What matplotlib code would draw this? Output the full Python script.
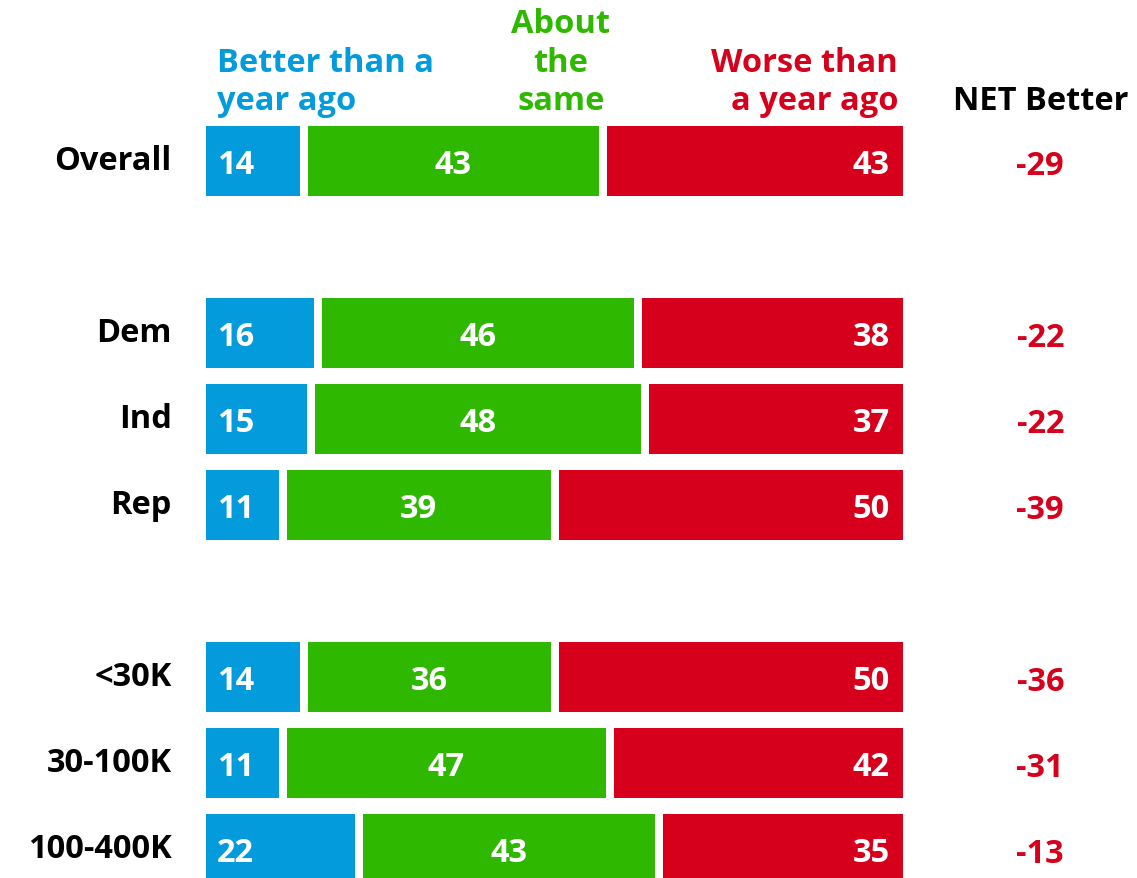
import matplotlib.pyplot as plt
import numpy as np

plt.rcParams['font.family'] = ['Open Sans', 'DejaVu Sans']

# Data
groups = ['Overall', 'Dem', 'Ind', 'Rep', '<30K', '30-100K', '100-400K']
better = [14, 16, 15, 11, 14, 11, 22]
same = [43, 46, 48, 39, 36, 47, 43]
worse = [43, 38, 37, 50, 50, 42, 35]
headers = ['Better than a\nyear ago', 'About\nthe\nsame', 'Worse than\na year ago']

# Layout: row slots (blank slots separate the groups)
slots = [0, 2, 3, 4, 6, 7, 8]

blue = '#039BDB'
green = '#2EB800'
red = '#D6001C'
colors = [blue, green, red]

W, H = 1137, 879
px_per_pct = 6.97      # 100% = 697 px
x0_px = 206            # left edge of bars
slot_px = 86
y0_px = 162

fig = plt.figure(figsize=(W / 100, H / 100), dpi=100)
ax = fig.add_axes([0, 0, 1, 1])
ax.set_xlim(-x0_px / px_per_pct, (W - x0_px) / px_per_pct)
ax.set_ylim((H - y0_px) / slot_px, -y0_px / slot_px)
ax.axis('off')

gap = 8 / px_per_pct
bar_h = 70 / slot_px
fs = 23.5

vals = np.array([better, same, worse], dtype=float)
y = np.array(slots, dtype=float)
cum = np.zeros(len(groups))
for k in range(3):
    left = cum + (gap / 2 if k > 0 else 0)
    right = cum + vals[k] - (gap / 2 if k < 2 else 0)
    ax.barh(y, right - left, left=left, height=bar_h, color=colors[k], linewidth=0)
    for i in range(len(groups)):
        if k == 0:
            ax.text(left[i] + 1.6, y[i] + 0.04, f'{int(vals[k][i])}', ha='left', va='center',
                    color='white', fontsize=fs, fontweight='bold')
        elif k == 1:
            ax.text((left[i] + right[i]) / 2, y[i] + 0.04, f'{int(vals[k][i])}', ha='center',
                    va='center', color='white', fontsize=fs, fontweight='bold')
        else:
            ax.text(right[i] - 1.9, y[i] + 0.04, f'{int(vals[k][i])}', ha='right', va='center',
                    color='white', fontsize=fs, fontweight='bold')
    cum = cum + vals[k]

# Row labels
for i, g in enumerate(groups):
    ax.text(-4.9, y[i], g, ha='right', va='center', color='black', fontsize=fs, fontweight='bold')

# NET Better column
net = np.array(better) - np.array(worse)
for i in range(len(groups)):
    ax.text(119.7, y[i] + 0.05, f'{net[i]}', ha='center', va='center', color=red,
            fontsize=fs, fontweight='bold')

# Headers
hy = (110 - y0_px) / slot_px
ax.text(1.6, hy, headers[0], ha='left', va='baseline', color=blue, fontsize=fs,
        fontweight='bold', linespacing=1.22)
ax.text(50.9, hy, headers[1], ha='center', va='baseline', color=green, fontsize=fs,
        fontweight='bold', linespacing=1.22)
ax.text(99.3, hy, headers[2], ha='right', va='baseline', color=red, fontsize=fs,
        fontweight='bold', linespacing=1.22)
ax.text(119.7, hy, 'NET Better', ha='center', va='baseline', color='black', fontsize=fs,
        fontweight='bold')

plt.savefig('out.png', dpi=100, facecolor='white')
